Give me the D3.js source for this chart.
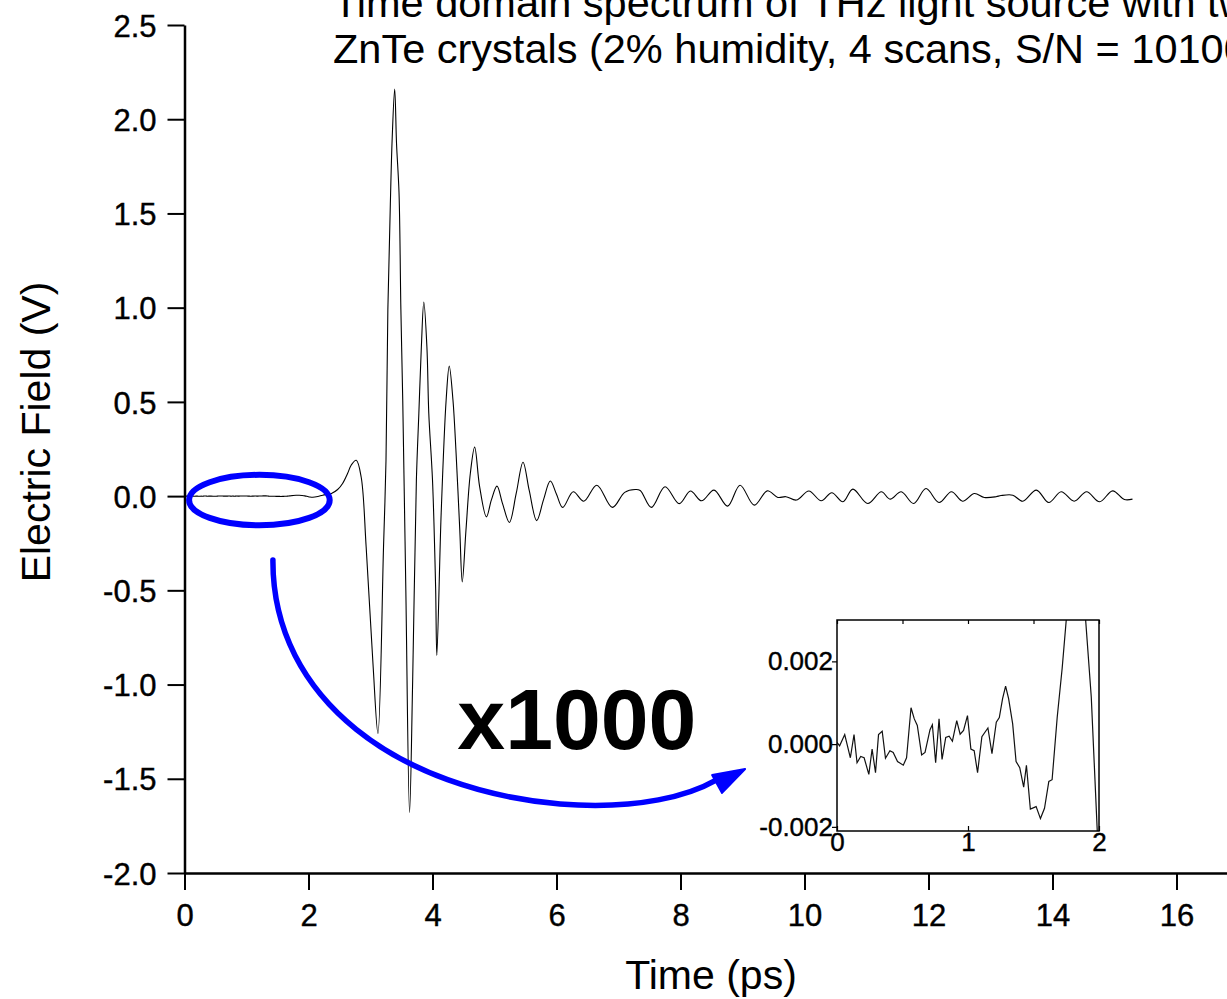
<!DOCTYPE html>
<html>
<head>
<meta charset="utf-8">
<script src="https://cdn.jsdelivr.net/npm/d3@7"></script>
<style>
  html, body { margin: 0; padding: 0; background: #fff; }
  svg { display: block; font-family: "Liberation Sans", Arial, sans-serif; }
</style>
</head>
<body>
<svg id="chart" width="1227" height="999"></svg>
<script>
// ---------------- DATA ----------------
const titleLines = [
  "Time domain spectrum of THz light source with two",
  "ZnTe crystals (2% humidity, 4 scans, S/N = 10100)"
];
const xLabel = "Time (ps)";
const yLabel = "Electric Field (V)";
const magnifyLabel = "x1000";

// time (ps)
const time = [
  0, 0.02, 0.059, 0.102, 0.13, 0.153, 0.181, 0.207, 0.243, 0.268, 0.294, 0.317, 0.345, 0.37, 0.404,
  0.429, 0.462, 0.506, 0.531, 0.565, 0.59, 0.613, 0.646, 0.672, 0.71, 0.728, 0.753, 0.779, 0.802,
  0.83, 0.856, 0.881, 0.914, 0.94, 0.966, 0.996, 1.022, 1.047, 1.073, 1.106, 1.152, 1.183, 1.216,
  1.239, 1.264, 1.287, 1.31, 1.341, 1.367, 1.395, 1.425, 1.446, 1.476, 1.52, 1.553, 1.584, 1.617,
  1.642, 1.681, 1.719, 1.75, 1.8, 1.85, 1.898, 1.941, 1.987, 2.02,
  2.07, 2.15, 2.23, 2.37, 2.47, 2.55, 2.63, 2.69, 2.77, 2.85, 2.93, 3.04, 3.12, 3.21, 3.25, 3.28,
  3.32, 3.35, 3.39, 3.42, 3.46, 3.49, 3.52, 3.57, 3.63, 3.68, 3.74, 3.78, 3.82, 3.86, 3.91, 3.94,
  4.00, 4.05, 4.07, 4.14, 4.22, 4.27, 4.33, 4.38, 4.44, 4.48, 4.54, 4.61, 4.68, 4.76, 4.87, 4.95,
  5.04, 5.13, 5.24, 5.35, 5.46, 5.56, 5.68, 5.79, 5.90, 6.00, 6.10, 6.27, 6.44, 6.65, 6.90, 7.10,
  7.27, 7.35, 7.53, 7.75, 7.98, 8.16, 8.34, 8.54, 8.76, 8.96, 9.19, 9.40, 9.57, 9.70, 9.87, 10.07,
  10.27, 10.44, 10.62, 10.78, 11.02, 11.24, 11.38, 11.56, 11.76, 11.96, 12.17, 12.37, 12.55, 12.74,
  12.90, 13.09, 13.17, 13.36, 13.52, 13.74, 13.94, 14.14, 14.35, 14.55, 14.76, 14.97, 15.16, 15.29
];
// electric field (V)
const field = [
  0.00004, -0.00004, 0.00023, -0.00033, 0.00023, -0.00045, -0.0003, -0.00033, -0.00073, -0.00012,
  -0.00069, 0.00023, 0.00031, -0.00034, -0.00016, -0.0002, -0.00042, -0.00051, -0.00033, 0.00088,
  0.00061, 0.00045, -0.00026, -0.0002, 0.00035, 0.00047, -0.00045, 0.00061, -0.00037, 0.00016,
  0.00019, 0.00007, 0.00057, 0.00024, 0.00033, 0.00069, -0.00012, -0.00016, -0.00069, 0.00018,
  0.00039, -0.00023, 0.00053, 0.00064, 0.0011, 0.0014, 0.0011, 0.00049, -0.00042, -0.00057,
  -0.00104, -0.00051, -0.00157, -0.00151, -0.0018, -0.00155, -0.0009, -0.00086, 0.00065, 0.00184,
  0.0030, 0.0043, 0.0044, 0.0030, 0.00114, -0.00212, -0.0045,
  -0.006, -0.002, 0.005, 0.014, 0.035, 0.067, 0.12, 0.165, 0.19, 0.10, -0.27, -0.89, -1.26, -0.27,
  0.19, 0.99, 1.55, 1.90, 2.16, 1.87, 1.61, 0.99, 0.51, -0.5, -1.68, -0.98, 0.085, 0.44, 0.79, 1.03,
  0.79, 0.44, 0.085, -0.48, -0.845, -0.09, 0.51, 0.69, 0.51, 0.23, -0.18, -0.455, -0.18, 0.12, 0.26,
  0.05, -0.11, -0.02, 0.053, -0.04, -0.14, 0.014, 0.18, 0.03, -0.13, -0.02, 0.08, 0.01, -0.06, 0.023,
  -0.027, 0.058, -0.06, 0.02, 0.035, 0.03, -0.06, 0.05, -0.04, 0.027, -0.025, 0.032, -0.053, 0.058,
  -0.048, 0.028, -0.007, -0.003, -0.021, 0.027, -0.025, 0.018, -0.03, 0.037, -0.039, 0.023, -0.016,
  0.023, -0.039, 0.04, -0.034, 0.023, -0.027, 0.014, -0.007, -0.003, 0.003, 0.005, -0.027, 0.032,
  -0.034, 0.023, -0.027, 0.023, -0.03, 0.028, -0.018, -0.016
];

const xMajorTicks = [0, 2, 4, 6, 8, 10, 12, 14, 16];
const xMinorTicks = [1, 3, 5, 7, 9, 11, 13, 15, 17];
const yMajorTicks = [-2.0, -1.5, -1.0, -0.5, 0.0, 0.5, 1.0, 1.5, 2.0, 2.5];
const yMinorTicks = [-1.75, -1.25, -0.75, -0.25, 0.25, 0.75, 1.25, 1.75, 2.25];

const insetXTicks = [0, 1, 2];
const insetXMinor = [0.5, 1.5];
const insetYTicks = [-0.002, 0.000, 0.002];
const insetYMinor = [-0.001, 0.001];

// annotation (in data units of the main chart)
const ellipseCenter = [1.208, -0.021];
const ellipseRadii = [1.134, 0.134];
const arrowPath = [[1.426, -0.339], [1.413, -1.082], [3.477, -1.56], [6.058, -1.634],
                   [7.348, -1.666], [8.155, -1.586], [8.574, -1.507]];
const arrowHead = [[9.042, -1.448], [8.51, -1.48], [8.67, -1.575]];
const magnifyPos = [4.4, -1.34];

// ---------------- CHART ----------------
const data = time.map((t, i) => ({ t, v: field[i] }));
const svg = d3.select("#chart");
const FONT = "Liberation Sans, Arial, sans-serif";

const x = d3.scaleLinear().domain([0, 17]).range([184.5, 184.5 + 17 * 62]);
const y = d3.scaleLinear().domain([-2, 2.5]).range([873, 25]);

// Axes
const gx = svg.append("g").attr("transform", `translate(0,${y(-2)})`);
gx.call(d3.axisBottom(x).tickValues(xMinorTicks).tickSize(10).tickSizeOuter(0).tickFormat(""));
gx.call(d3.axisBottom(x).tickValues(xMajorTicks).tickSize(17).tickSizeOuter(0).tickFormat(d => d));
gx.selectAll("path.domain").attr("stroke-width", 2.5);
gx.selectAll(".tick line").attr("stroke-width", 2);
gx.selectAll(".tick text").attr("font-size", 31).attr("fill", "#000").attr("dy", 0).attr("y", 53)
  .attr("stroke", "#000").attr("stroke-width", 0.4).attr("font-family", FONT);

const gy = svg.append("g").attr("transform", `translate(${x(0)},0)`);
gy.call(d3.axisLeft(y).tickValues(yMinorTicks).tickSize(10).tickSizeOuter(0).tickFormat(""));
gy.call(d3.axisLeft(y).tickValues(yMajorTicks).tickSize(17).tickSizeOuter(0).tickFormat(d => d.toFixed(1)));
gy.selectAll("path.domain").attr("stroke-width", 2.5);
gy.selectAll(".tick line").attr("stroke-width", 2);
gy.selectAll(".tick text").attr("font-size", 31).attr("fill", "#000").attr("x", -28).attr("dy", "0.36em")
  .attr("stroke", "#000").attr("stroke-width", 0.4).attr("font-family", FONT);

// Main curve
const line = d3.line().x(d => x(d.t)).y(d => y(d.v)).curve(d3.curveCatmullRom.alpha(0.5));
svg.append("path").datum(data).attr("d", line)
  .attr("fill", "none").attr("stroke", "#000").attr("stroke-width", 1.1);

// Titles
svg.append("g").selectAll("text").data(titleLines).join("text")
  .attr("x", 333).attr("y", (d, i) => 17 + i * 46)
  .attr("font-size", 41.5).attr("fill", "#000").text(d => d);

svg.append("text").attr("x", 711).attr("y", 989).attr("text-anchor", "middle")
  .attr("font-size", 41).attr("fill", "#000").text(xLabel);

svg.append("text").attr("transform", "translate(50,432) rotate(-90)").attr("text-anchor", "middle")
  .attr("font-size", 41).attr("fill", "#000").text(yLabel);

// Annotation: ellipse, arrow, label
svg.append("ellipse")
  .attr("cx", x(ellipseCenter[0])).attr("cy", y(ellipseCenter[1]))
  .attr("rx", x(ellipseRadii[0]) - x(0)).attr("ry", y(0) - y(ellipseRadii[1]))
  .attr("fill", "none").attr("stroke", "#0000ff").attr("stroke-width", 6);

const ap = arrowPath.map(p => [x(p[0]), y(p[1])]);
const pathStr = `M${ap[0]} C${ap[1]} ${ap[2]} ${ap[3]} C${ap[4]} ${ap[5]} ${ap[6]}`;
svg.append("path").attr("d", pathStr).attr("fill", "none")
  .attr("stroke", "#0000ff").attr("stroke-width", 5.5).attr("stroke-linecap", "round");
svg.append("polygon").attr("points", arrowHead.map(p => [x(p[0]), y(p[1])].join(",")).join(" "))
  .attr("fill", "#0000ff").attr("stroke", "#0000ff").attr("stroke-width", 2).attr("stroke-linejoin", "round");

svg.append("text").attr("x", x(magnifyPos[0])).attr("y", y(magnifyPos[1]))
  .attr("font-size", 86).attr("font-weight", "bold").attr("fill", "#000").text(magnifyLabel);

// Inset
const ix = d3.scaleLinear().domain([0, 2]).range([837, 1099]);
const iy = d3.scaleLinear().domain([-0.0021, 0.003]).range([831, 620]);
const inset = svg.append("g");
inset.append("clipPath").attr("id", "insetClip").append("rect")
  .attr("x", ix(0)).attr("y", iy(0.003)).attr("width", ix(2) - ix(0)).attr("height", iy(-0.0021) - iy(0.003));
inset.append("rect").attr("x", ix(0)).attr("y", iy(0.003)).attr("width", ix(2) - ix(0))
  .attr("height", iy(-0.0021) - iy(0.003)).attr("fill", "#fff");

const insetData = data.filter(d => d.t <= 2.05);
const iline = d3.line().x(d => ix(d.t)).y(d => iy(d.v));
inset.append("path").datum(insetData).attr("d", iline).attr("clip-path", "url(#insetClip)")
  .attr("fill", "none").attr("stroke", "#111").attr("stroke-width", 1.2);

const ibx = inset.append("g").attr("transform", `translate(0,${iy(-0.0021)})`);
ibx.call(d3.axisTop(ix).tickValues(insetXMinor).tickSize(3).tickSizeOuter(0).tickFormat(""));
ibx.call(d3.axisTop(ix).tickValues(insetXTicks).tickSize(5).tickSizeOuter(0).tickFormat(d => d));
ibx.selectAll(".tick text").attr("y", 20).attr("dy", 0).attr("font-size", 26).attr("fill", "#000")
  .attr("stroke", "#000").attr("stroke-width", 0.4).attr("font-family", FONT);
const itx = inset.append("g").attr("transform", `translate(0,${iy(0.003)})`);
itx.call(d3.axisBottom(ix).tickValues(insetXMinor.concat(insetXTicks)).tickSize(4).tickSizeOuter(0).tickFormat(""));

const ily = inset.append("g").attr("transform", `translate(${ix(0)},0)`);
ily.call(d3.axisLeft(iy).tickValues(insetYMinor).tickSize(3).tickSizeOuter(0).tickFormat(""));
ily.call(d3.axisLeft(iy).tickValues(insetYTicks).tickSize(5).tickSizeOuter(0).tickFormat(d => d.toFixed(3)));
ily.selectAll(".tick text").attr("x", -4).attr("font-size", 26).attr("fill", "#000")
  .attr("stroke", "#000").attr("stroke-width", 0.4).attr("font-family", FONT);

inset.selectAll("path.domain").attr("stroke", "none");
inset.selectAll(".tick line").attr("stroke-width", 1.2);
inset.append("rect").attr("x", ix(0)).attr("y", iy(0.003)).attr("width", ix(2) - ix(0))
  .attr("height", iy(-0.0021) - iy(0.003)).attr("fill", "none").attr("stroke", "#000").attr("stroke-width", 1.5);
</script>
</body>
</html>
